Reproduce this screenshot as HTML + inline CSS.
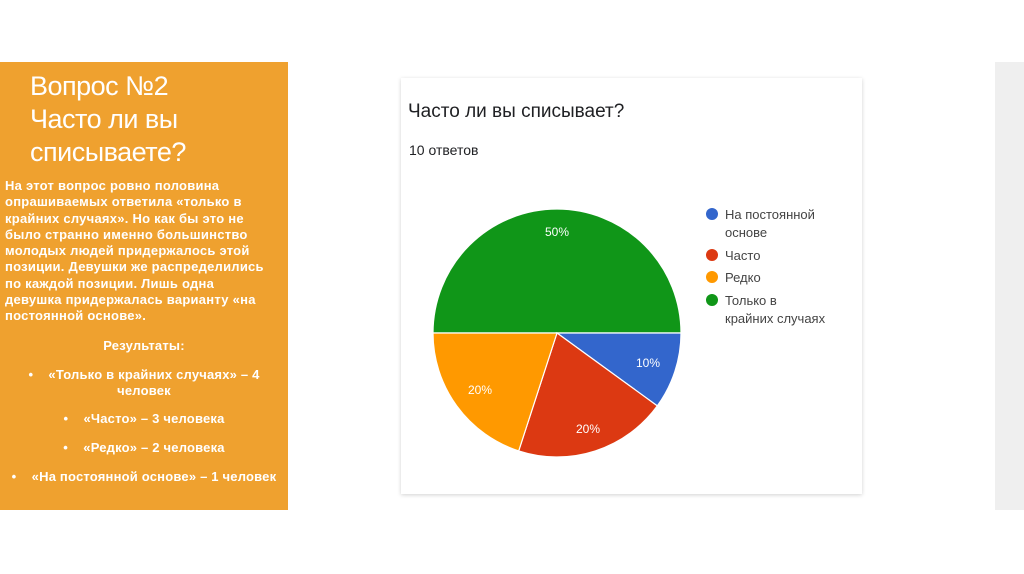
<!DOCTYPE html>
<html><head><meta charset="utf-8"><style>
body{margin:0;width:1024px;height:574px;background:#fff;position:relative;overflow:hidden;font-family:"Liberation Sans",sans-serif}
#op{position:absolute;left:0;top:62px;width:288px;height:448px;background:#EFA12F;color:#fff}
#tt{position:absolute;left:30px;top:8px;font-size:27px;line-height:33px;font-weight:normal;letter-spacing:-0.5px}
#bd{position:absolute;left:5px;top:116px;width:283px;font-size:13px;letter-spacing:0.25px;line-height:16.3px;font-weight:bold;white-space:nowrap}
.c{text-align:center;font-size:13px;letter-spacing:0.2px;font-weight:bold;position:absolute;left:0;width:288px;white-space:nowrap}
#gs{position:absolute;left:995px;top:62px;width:29px;height:448px;background:#efefef}
#card{position:absolute;left:401px;top:78px;width:461px;height:416px;background:#fff;box-shadow:0 1px 4px rgba(0,0,0,.18)}
</style></head><body>
<div id="op">
<div id="tt">Вопрос №2<br>Часто ли вы<br>списываете?</div>
<div id="bd">На этот вопрос ровно половина<br>опрашиваемых ответила «только в<br>крайних случаях». Но как бы это не<br>было странно именно большинство<br>молодых людей придержалось этой<br>позиции. Девушки же распределились<br>по каждой позиции. Лишь одна<br>девушка придержалась варианту «на<br>постоянной основе».</div>
<div class="c" style="top:276px">Результаты:</div>
<div class="c" style="top:305px;line-height:16px">•&nbsp;&nbsp;&nbsp;&nbsp;«Только в крайних случаях» – 4<br>человек</div>
<div class="c" style="top:349px">•&nbsp;&nbsp;&nbsp;&nbsp;«Часто» – 3 человека</div>
<div class="c" style="top:378px">•&nbsp;&nbsp;&nbsp;&nbsp;«Редко» – 2 человека</div>
<div class="c" style="top:407px">•&nbsp;&nbsp;&nbsp;&nbsp;«На постоянной основе» – 1 человек</div>
</div>
<div id="gs"></div>
<div id="card"></div>
<svg width="1024" height="574" style="position:absolute;left:0;top:0" font-family="Liberation Sans, sans-serif">
<text x="408" y="117" font-size="19" fill="#202124">Часто ли вы списывает?</text>
<text x="409" y="155" font-size="14" fill="#202124">10 ответов</text>
<g stroke="#fff" stroke-width="1.2">
<path d="M557 333 L433 333 A124 124 0 0 1 681 333 Z" fill="#109618"/>
<path d="M557 333 L681 333 A124 124 0 0 1 657.3 405.9 Z" fill="#3366CC"/>
<path d="M557 333 L657.3 405.9 A124 124 0 0 1 518.7 450.9 Z" fill="#DC3912"/>
<path d="M557 333 L518.7 450.9 A124 124 0 0 1 433 333 Z" fill="#FF9900"/>
</g>
<g font-size="12" fill="#fff" text-anchor="middle">
<text x="557" y="236">50%</text>
<text x="648" y="367">10%</text>
<text x="588" y="433">20%</text>
<text x="480" y="394">20%</text>
</g>
<g font-size="13" fill="#444">
<circle cx="712" cy="214" r="6" fill="#3366CC"/><text x="725" y="219">На постоянной</text><text x="725" y="237">основе</text>
<circle cx="712" cy="255" r="6" fill="#DC3912"/><text x="725" y="260">Часто</text>
<circle cx="712" cy="277" r="6" fill="#FF9900"/><text x="725" y="282">Редко</text>
<circle cx="712" cy="300" r="6" fill="#109618"/><text x="725" y="305">Только в</text><text x="725" y="323">крайних случаях</text>
</g>
</svg>
</body></html>
